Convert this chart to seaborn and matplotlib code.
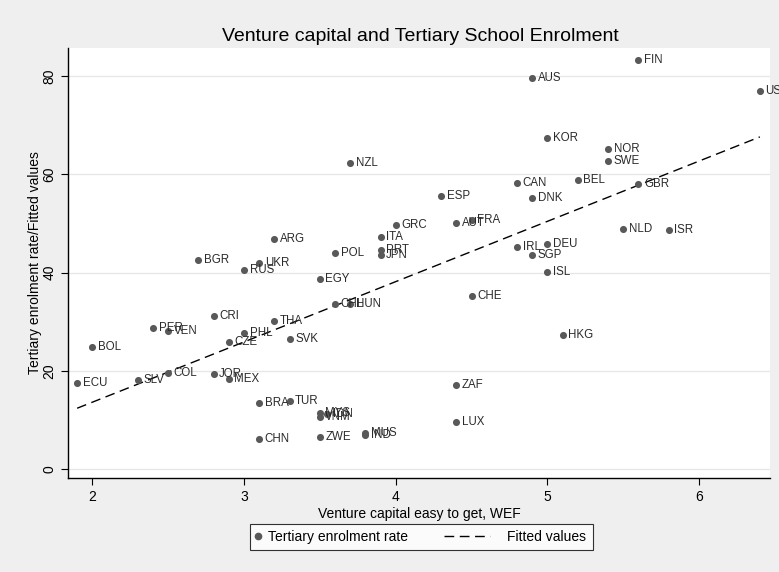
import numpy as np
import pandas as pd
import matplotlib
matplotlib.use("Agg")
import matplotlib.pyplot as plt
import seaborn as sns
from matplotlib.lines import Line2D
from matplotlib.legend_handler import HandlerLine2D

# country codes and values
countries = ["FIN", "USA", "AUS", "KOR", "NOR", "SWE", "NZL", "BEL", "CAN", "GBR",
             "ESP", "DNK", "AUT", "FRA", "GRC", "NLD", "ISR", "ITA", "ARG", "IRL",
             "DEU", "PRT", "POL", "JPN", "SGP", "BGR", "UKR", "RUS", "ISL", "EGY",
             "CHE", "CHL", "HUN", "CRI", "THA", "PER", "VEN", "PHL", "HKG", "SVK",
             "CZE", "BOL", "COL", "JOR", "MEX", "SLV", "ECU", "ZAF", "TUR", "BRA",
             "MYS", "IDN", "VNM", "LUX", "IND", "MUS", "ZWE", "CHN"]
venture = [5.6, 6.4, 4.9, 5.0, 5.4, 5.4, 3.7, 5.2, 4.8, 5.6,
           4.3, 4.9, 4.4, 4.5, 4.0, 5.5, 5.8, 3.9, 3.2, 4.8,
           5.0, 3.9, 3.6, 3.9, 4.9, 2.7, 3.1, 3.0, 5.0, 3.5,
           4.5, 3.6, 3.7, 2.8, 3.2, 2.4, 2.5, 3.0, 5.1, 3.3,
           2.9, 2.0, 2.5, 2.8, 2.9, 2.3, 1.9, 4.4, 3.3, 3.1,
           3.5, 3.55, 3.5, 4.4, 3.8, 3.8, 3.5, 3.1]
tertiary = [83.2, 76.9, 79.7, 67.5, 65.1, 62.8, 62.4, 58.8, 58.2, 58.0,
            55.7, 55.1, 50.1, 50.7, 49.7, 48.8, 48.6, 47.2, 46.8, 45.2,
            45.9, 44.7, 44.0, 43.7, 43.7, 42.5, 41.9, 40.5, 40.2, 38.8,
            35.3, 33.7, 33.7, 31.1, 30.1, 28.7, 28.1, 27.7, 27.3, 26.5,
            26.0, 24.8, 19.6, 19.3, 18.3, 18.1, 17.5, 17.1, 13.9, 13.6,
            11.5, 11.2, 10.6, 9.6, 7.0, 7.3, 6.6, 6.1]

df = pd.DataFrame({"country": countries, "vc": venture, "tert": tertiary})

plt.rcParams['font.family'] = ['Liberation Sans', 'DejaVu Sans']
bg = "#efefef"
dot = "#595959"
dash = (0, (7, 4))


class LongLine(HandlerLine2D):
    # stretch the dashed key to the left, into the column gap
    def create_artists(self, legend, orig_handle, xdescent, ydescent,
                       width, height, fontsize, trans):
        arts = super().create_artists(legend, orig_handle, xdescent, ydescent,
                                      width, height, fontsize, trans)
        yc = (height - ydescent) / 2
        for a in arts:
            a.set_data([width - xdescent - 40, width - xdescent - 7], [yc, yc])
        return arts


fig = plt.figure(figsize=(7.79, 5.72), dpi=100, facecolor=bg)
ax = fig.add_axes([0.0873, 0.1643, 0.9012, 0.7517])
ax.set_facecolor("white")

for v in [0, 20, 40, 60, 80]:
    ax.axhline(v, color="#e6e6e6", lw=0.9, zorder=0)

sns.scatterplot(data=df, x="vc", y="tert", ax=ax, color=dot, s=26,
                edgecolor=dot, linewidth=0, zorder=3, legend=False)

# fitted values (OLS on the points)
sns.regplot(data=df, x="vc", y="tert", ax=ax, scatter=False, ci=None,
            line_kws=dict(color="black", lw=1.0, ls=dash))

# labels are not clipped by the plot region (USA runs off the image edge)
for c, xv, yv in zip(countries, venture, tertiary):
    ax.annotate(c, (xv, yv), xytext=(4, 0), textcoords="offset points",
                va="center", ha="left", fontsize=8.3, color="#2b2b2b",
                annotation_clip=False)

ax.set_xlim(1.84, 6.467)
ax.set_ylim(-1.76, 85.7)
ax.set_xticks([2, 3, 4, 5, 6])
ax.set_yticks([0, 20, 40, 60, 80])
for s in ["top", "right"]:
    ax.spines[s].set_visible(False)
for s in ["left", "bottom"]:
    ax.spines[s].set_color("black")
    ax.spines[s].set_linewidth(1.0)
ax.tick_params(direction="out", length=5, width=0.8, colors="black", labelsize=10)
plt.setp(ax.get_yticklabels(), rotation=90, va="center")

ax.set_xlabel("Venture capital easy to get, WEF", fontsize=10, labelpad=2)
ax.set_ylabel("Tertiary enrolment rate/Fitted values", fontsize=10, labelpad=0.5)
fig.text(0.54, 0.937, "Venture capital and Tertiary School Enrolment",
         ha="center", va="center", fontsize=14)

mk = Line2D([], [], marker="o", color=dot, ls="none", markersize=4.5)
fl = Line2D([], [], color="black", lw=1.0, ls=dash)
leg = fig.legend([mk, fl], ["Tertiary enrolment rate", "Fitted values"],
                 loc="center", bbox_to_anchor=(0.541, 0.061), ncol=2,
                 fontsize=10, frameon=True, fancybox=False, edgecolor="black",
                 handlelength=0.3, handletextpad=0.55, columnspacing=6.3,
                 borderpad=0.45, handler_map={fl: LongLine()})
leg.get_frame().set_linewidth(0.8)

fig.savefig("out.png", dpi=100, facecolor=bg)
